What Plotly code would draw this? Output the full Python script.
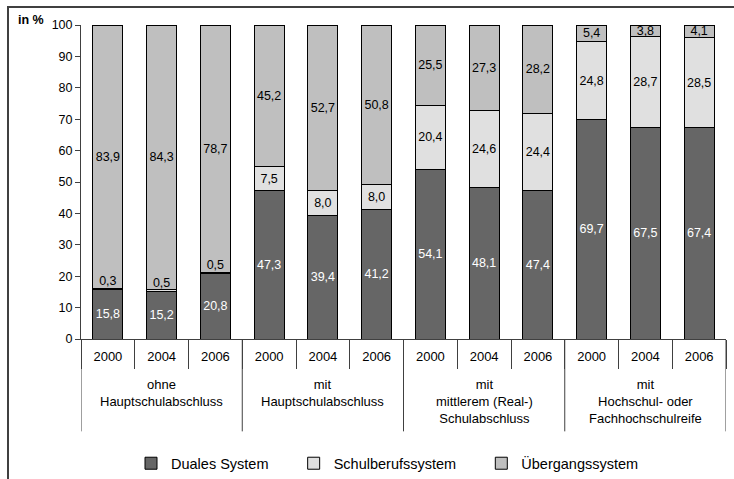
import plotly.graph_objects as go

# Abschlussgruppen und Erhebungsjahre
groups = [
    "ohne<br>Hauptschulabschluss",
    "mit<br>Hauptschulabschluss",
    "mit<br>mittlerem (Real-)<br>Schulabschluss",
    "mit<br>Hochschul- oder<br>Fachhochschulreife",
]
years = ["2000", "2004", "2006"]

# Anteile in % je Gruppe und Jahr
duales = [15.8, 15.2, 20.8, 47.3, 39.4, 41.2, 54.1, 48.1, 47.4, 69.7, 67.5, 67.4]
schulberuf = [0.3, 0.5, 0.5, 7.5, 8.0, 8.0, 20.4, 24.6, 24.4, 24.8, 28.7, 28.5]
uebergang = [83.9, 84.3, 78.7, 45.2, 52.7, 50.8, 25.5, 27.3, 28.2, 5.4, 3.8, 4.1]

y_ticks = list(range(0, 101, 10))

ny = len(years)
n = len(groups) * ny
pos = list(range(n))                      # one slot per bar
year_text = [years[i % ny] for i in pos]
boundaries = [i + 0.5 for i in range(-1, n)]
group_edges = [g * ny - 0.5 for g in range(len(groups) + 1)]
group_centers = [g * ny + (ny - 1) / 2 for g in range(len(groups))]

FONT = "Liberation Sans, Arial, sans-serif"
FS = 12.5
AX = "#404040"


def fmt(v):
    return f"{v:.1f}".replace(".", ",")


# very thin segments get their label placed above the bar part instead
SMALL = 1.0

fig = go.Figure()
series = [
    ("Duales System", duales, "#666666", "white"),
    ("Schulberufssystem", schulberuf, "#e0e0e0", "black"),
    ("Übergangssystem", uebergang, "#bfbfbf", "black"),
]
PAD = "\u00a0" * 5
for name, vals, color, tcolor in series:
    fig.add_trace(go.Bar(
        name=name + PAD,
        x=pos,
        y=vals,
        marker=dict(color=color, line=dict(color="black", width=1)),
        text=[fmt(v) if v >= SMALL else "" for v in vals],
        textposition="inside",
        insidetextanchor="middle",
        constraintext="none",
        textangle=0,
        textfont=dict(family=FONT, size=FS, color=tcolor),
        cliponaxis=False,
        hoverinfo="skip",
    ))

# labels of the tiny Schulberufssystem segments, sitting just above them
small_idx = [i for i, v in enumerate(schulberuf) if v < SMALL]
fig.add_trace(go.Scatter(
    x=[pos[i] for i in small_idx],
    y=[duales[i] + schulberuf[i] for i in small_idx],
    mode="text",
    text=[fmt(schulberuf[i]) for i in small_idx],
    textposition="top center",
    textfont=dict(family=FONT, size=FS, color="black"),
    showlegend=False,
    hoverinfo="skip",
    cliponaxis=False,
))

W, H = 734, 479
ML, MR, MT, MB = 81, 8, 25, 139.5
pw = W - ML - MR
ph = H - MT - MB


def px_x(p):
    return (p - ML) / pw


def px_y(p):
    return 1 - (p - MT) / ph


shapes = [
    # outer chart frame
    dict(
        type="rect",
        xref="paper", yref="paper",
        x0=px_x(8), x1=px_x(W + 20),
        y0=px_y(H + 20), y1=px_y(7),
        line=dict(color=AX, width=2),
        fillcolor="rgba(0,0,0,0)",
        layer="above",
    )
]
# long dividers between the school-leaving groups
for e in group_edges:
    shapes.append(dict(
        type="line", xref="x", yref="paper",
        x0=e, x1=e, y0=0, y1=px_y(432),
        line=dict(color=AX, width=1),
    ))

annotations = [
    dict(
        text="<b>in %</b>",
        xref="paper", yref="paper",
        x=px_x(16), y=px_y(20),
        xanchor="left", yanchor="middle",
        showarrow=False,
        font=dict(family=FONT, size=FS, color="black"),
    )
]
for c, g in zip(group_centers, groups):
    annotations.append(dict(
        text=g,
        xref="x", yref="paper",
        x=c, y=px_y(376),
        xanchor="center", yanchor="top",
        align="center",
        showarrow=False,
        font=dict(family=FONT, size=13, color="black"),
    ))

fig.update_layout(
    width=W,
    height=H,
    margin=dict(l=ML, r=MR, t=MT, b=MB, pad=0, autoexpand=False),
    barmode="stack",
    barnorm="percent",
    bargap=0.44,
    paper_bgcolor="white",
    plot_bgcolor="white",
    font=dict(family=FONT, size=FS, color="black"),
    xaxis=dict(
        range=[-0.5, n - 0.5],
        tickvals=pos,
        ticktext=year_text,
        ticks="",
        ticklabelstandoff=5,
        showline=True,
        linecolor=AX,
        linewidth=1,
        showgrid=False,
        zeroline=False,
        automargin=False,
        tickfont=dict(family=FONT, size=13, color="black"),
        minor=dict(
            tickvals=boundaries,
            ticks="outside",
            ticklen=28.5,
            tickcolor=AX,
            tickwidth=1,
            showgrid=False,
        ),
    ),
    yaxis=dict(
        range=[0, 100],
        tickvals=y_ticks,
        showline=True,
        linecolor=AX,
        linewidth=1,
        ticks="outside",
        ticklen=5,
        tickcolor=AX,
        showgrid=False,
        zeroline=False,
        automargin=False,
        tickfont=dict(family=FONT, size=FS, color="black"),
    ),
    legend=dict(
        orientation="h",
        traceorder="normal",
        x=px_x(131),
        xanchor="left",
        y=px_y(464),
        yanchor="middle",
        font=dict(family=FONT, size=14.5, color="black"),
        itemwidth=30,
        bgcolor="rgba(0,0,0,0)",
    ),
    showlegend=True,
    annotations=annotations,
    shapes=shapes,
)

fig.write_html("out.html")
